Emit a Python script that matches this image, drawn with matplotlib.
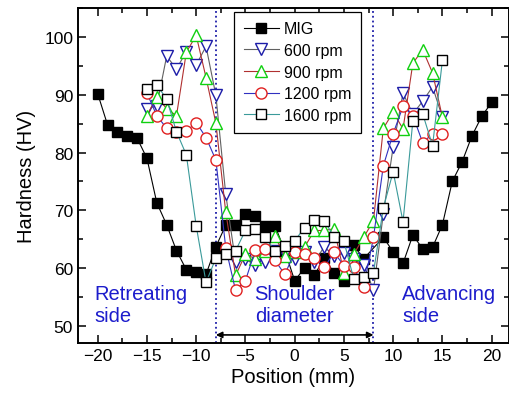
import matplotlib
matplotlib.use("Agg")
import matplotlib.pyplot as plt
import numpy as np

plt.rcParams['font.family'] = ['Liberation Sans', 'DejaVu Sans']

# MIG weld profile
mig_x = list(range(-20, -7)) + list(range(-7, 8)) + list(range(9, 21))
mig_hv = [90.2, 84.8, 83.5, 82.9, 82.5, 79.0, 71.3, 67.5, 63.0, 59.7, 59.3, 58.9, 63.7,
          67.4, 67.4, 69.4, 69.0, 67.3, 67.3, 63.0, 57.8, 60.0, 58.7, 61.8, 59.1, 57.8, 63.9, 61.6,
          65.3, 62.8, 60.8, 65.7, 63.3, 63.6, 67.5, 75.0, 78.4, 82.9, 86.3, 88.7]

# FSW profiles, -15 .. 15 mm
fsw_x = list(range(-15, 16))
hv_600 = [87.6, 88.1, 96.7, 94.5, 97.5, 95.2, 98.4, 89.9, 72.8, 61.0, 61.5, 60.5, 61.0, 63.0, 62.4, 61.5,
          62.7, 61.0, 63.7, 62.0, 62.6, 61.5, 60.5, 56.2, 69.4, 81.0, 90.3, 86.7, 88.9, 91.4, 86.1]
hv_900 = [86.4, 89.7, 87.6, 86.4, 97.4, 100.3, 93.0, 85.1, 69.7, 58.7, 62.4, 61.6, 63.0, 65.5, 62.0, 62.7,
          63.6, 66.5, 66.5, 66.8, 59.2, 62.4, 65.3, 68.2, 84.2, 87.0, 84.1, 95.5, 97.8, 93.8, 86.1]
hv_1200 = [90.3, 86.4, 84.2, 83.6, 83.7, 85.2, 82.6, 78.7, 63.5, 56.1, 57.8, 63.1, 63.3, 61.3, 58.9, 62.7,
           62.4, 61.8, 60.1, 62.7, 60.4, 60.1, 56.7, 65.3, 77.7, 83.3, 88.0, 86.4, 81.7, 83.3, 83.3]
hv_1600 = [91.1, 91.7, 89.3, 83.6, 79.6, 67.3, 57.5, 61.7, 62.4, 63.0, 66.5, 66.8, 65.3, 63.0, 63.8, 64.7,
           67.0, 68.4, 68.2, 65.4, 64.6, 58.1, 58.4, 59.2, 70.4, 76.7, 68.0, 85.5, 86.7, 81.2, 96.0]

shoulder = 8

fig = plt.figure(figsize=(5.09, 4.02), dpi=100)
ax = fig.add_axes([78 / 509, 58 / 402, 431 / 509, 334.7 / 402])

ax.plot(mig_x, mig_hv, color='black', lw=0.8, marker='s', ms=7.5,
        mfc='black', mec='black', label='MIG', zorder=3)
ax.plot(fsw_x, hv_600, color='#606060', lw=0.8, marker='v', ms=9,
        mfc='white', mec='#1c1ca8', mew=1.0, label='600 rpm', zorder=3)
ax.plot(fsw_x, hv_900, color='#b03030', lw=0.8, marker='^', ms=9,
        mfc='white', mec='#10d010', mew=1.0, label='900 rpm', zorder=3)
ax.plot(fsw_x, hv_1200, color='#3030c0', lw=0.8, marker='o', ms=8,
        mfc='white', mec='#e02020', mew=1.0, label='1200 rpm', zorder=3)
ax.plot(fsw_x, hv_1600, color='#3a9a9a', lw=0.8, marker='s', ms=7.5,
        mfc='white', mec='black', mew=1.0, label='1600 rpm', zorder=3)

for xv in (-shoulder, shoulder):
    ax.axvline(xv, color='#1c1ca8', ls=':', lw=1.3, zorder=2)

ax.annotate('', xy=(-shoulder, 48.4), xytext=(shoulder, 48.4),
            arrowprops=dict(arrowstyle='<|-|>', color='black', lw=1.2,
                            mutation_scale=9, shrinkA=0, shrinkB=0))

txt = dict(color='#1c1ccc', fontsize=14.5, va='center', linespacing=1.2)
ax.text(-20.3, 53.6, 'Retreating\nside', ha='left', **txt)
ax.text(0, 53.6, 'Shoulder\ndiameter', ha='center', multialignment='center', **txt)
ax.text(10.9, 53.6, 'Advancing\nside', ha='left', **txt)

ax.set_xlim(-22, 21.76)
ax.set_ylim(47, 105)
ax.set_xticks(np.arange(-20, 21, 5))
ax.set_xticks(np.arange(-20, 21, 2.5), minor=True)
ax.set_yticks(np.arange(50, 101, 10))
ax.set_yticks(np.arange(50, 106, 5), minor=True)
ax.tick_params(which='both', direction='in', top=True, right=True, labelsize=12.5)
ax.tick_params(which='major', length=6, width=1.1)
ax.tick_params(which='minor', length=3.5, width=1.1)
for s in ax.spines.values():
    s.set_linewidth(1.4)

ax.set_xlabel('Position (mm)', fontsize=14.5, labelpad=3)
ax.set_ylabel('Hardness (HV)', fontsize=14.5, labelpad=6)

leg = ax.legend(loc='upper center', bbox_to_anchor=(0.509, 0.99), fontsize=11.5,
                fancybox=False, edgecolor='black', framealpha=1,
                handlelength=2.2, handletextpad=0.3, labelspacing=0.42,
                borderpad=0.6, borderaxespad=0)
leg.get_frame().set_linewidth(0.9)

fig.savefig('out.png', dpi=100)
